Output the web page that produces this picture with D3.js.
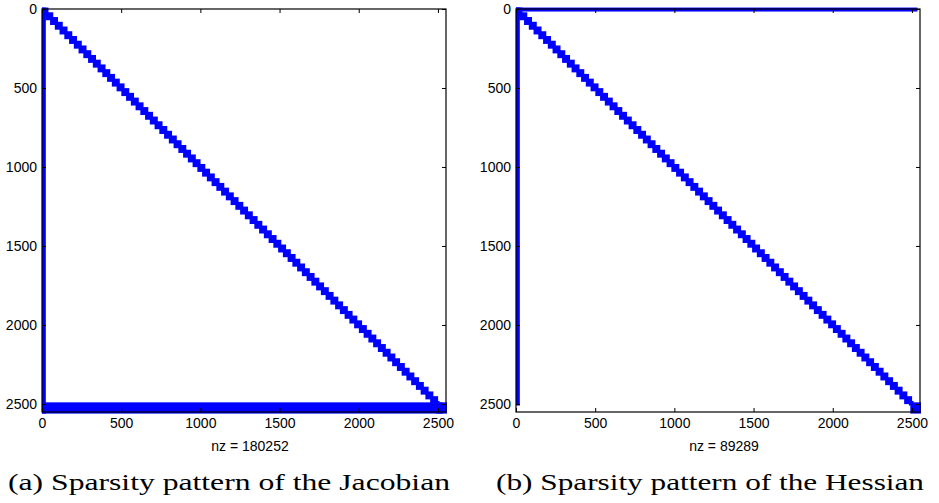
<!DOCTYPE html>
<html>
<head>
<meta charset="utf-8">
<script src="https://cdn.jsdelivr.net/npm/d3@7"></script>
<style>
  html, body { margin: 0; padding: 0; background: #fff; }
  svg { display: block; }
</style>
</head>
<body>
<svg id="chart" width="939" height="503"></svg>
<script>
// ---- data ----
const matrixSize = 2550;                 // n (axis runs 0..n+1)
const tickValues = [0, 500, 1000, 1500, 2000, 2500];
const tickLabels = ["0", "500", "1000", "1500", "2000", "2500"];
const diagBlockSize = 30;                // size of the diagonal blocks
const diagEnd = 2500;                    // diagonal blocks run up to this index
const nzLabels = ["nz = 180252", "nz = 89289"];
const captions = ["(a) Sparsity pattern of the Jacobian", "(b) Sparsity pattern of the Hessian"];
// extra dense regions [rowStart, rowEnd, colStart, colEnd]
const jacobianRegions = [
  [1, 2551, 1, 14],        // first column(s)
  [2500, 2551, 1, 2520],   // bottom dense rows
  [2500, 2551, 2500, 2551] // last block
];
const hessianRegions = [
  [1, 6, 1, 2525],         // first row
  [1, 2500, 1, 14],        // first column
  [2500, 2551, 2500, 2551] // last block
];

// ---- layout ----
const svg = d3.select("#chart");
const panels = [
  { x0: 42, x1: 446, y0: 9, y1: 412, regions: jacobianRegions, nz: nzLabels[0], caption: captions[0], capX0: 8, capX1: 450 },
  { x0: 516, x1: 920, y0: 9, y1: 412, regions: hessianRegions, nz: nzLabels[1], caption: captions[1], capX0: 496, capX1: 924 }
];
const markerHalf = 1.6;
const blue = "#0000ff";
const sansFont = "'Liberation Sans', Arial, Helvetica, sans-serif";

// diagonal blocks
const diagBlocks = [];
for (let s = 1; s < diagEnd; s += diagBlockSize) {
  const e = Math.min(s + diagBlockSize, diagEnd);
  diagBlocks.push([s, e, s, e]);
}

panels.forEach((p, i) => {
  const x = d3.scaleLinear().domain([0, matrixSize + 1]).range([p.x0, p.x1]);
  const y = d3.scaleLinear().domain([0, matrixSize + 1]).range([p.y0, p.y1]);
  const g = svg.append("g");

  const clipId = "clip" + i;
  svg.append("clipPath").attr("id", clipId)
    .append("rect").attr("x", p.x0).attr("y", p.y0 - 2)
    .attr("width", p.x1 - p.x0 + 1).attr("height", p.y1 - p.y0 + 4);

  const marks = g.append("g").attr("clip-path", `url(#${clipId})`);
  const all = diagBlocks.concat(p.regions);
  marks.selectAll("rect").data(all).join("rect")
    .attr("x", d => x(d[2]) - markerHalf)
    .attr("y", d => y(d[0]) - markerHalf)
    .attr("width", d => x(d[3]) - x(d[2]) + 2 * markerHalf)
    .attr("height", d => y(d[1]) - y(d[0]) + 2 * markerHalf)
    .attr("fill", blue);

  // axes
  const fmt = (d) => tickLabels[tickValues.indexOf(d)];
  const bottom = g.append("g").attr("transform", `translate(0,${p.y1})`)
    .call(d3.axisBottom(x).tickValues(tickValues).tickFormat(fmt).tickSizeInner(-4).tickSizeOuter(0).tickPadding(6));
  const left = g.append("g").attr("transform", `translate(${p.x0},0)`)
    .call(d3.axisLeft(y).tickValues(tickValues).tickFormat(fmt).tickSizeInner(-4).tickSizeOuter(0).tickPadding(5));
  const top = g.append("g").attr("transform", `translate(0,${p.y0})`)
    .call(d3.axisTop(x).tickValues(tickValues).tickFormat("").tickSizeInner(-4).tickSizeOuter(0));
  const right = g.append("g").attr("transform", `translate(${p.x1},0)`)
    .call(d3.axisRight(y).tickValues(tickValues).tickFormat("").tickSizeInner(-4).tickSizeOuter(0));
  [bottom, left, top, right].forEach(a => {
    a.select(".domain").remove();
    a.selectAll(".tick line").attr("stroke", "#000");
    a.selectAll("text").attr("font-family", sansFont).attr("font-size", 14).attr("fill", "#000");
  });

  // box
  g.append("rect").attr("x", p.x0).attr("y", p.y0)
    .attr("width", p.x1 - p.x0).attr("height", p.y1 - p.y0)
    .attr("fill", "none").attr("stroke", "#000").attr("stroke-width", 1.2);

  // nz label
  g.append("text").attr("x", (p.x0 + p.x1) / 2 + 6).attr("y", 451)
    .attr("text-anchor", "middle").attr("font-family", sansFont).attr("font-size", 14)
    .text(p.nz);

  // caption
  g.append("text").attr("x", p.capX0).attr("y", 490)
    .attr("font-family", "'Liberation Serif', 'Times New Roman', serif").attr("font-size", 24)
    .attr("textLength", p.capX1 - p.capX0).attr("lengthAdjust", "spacingAndGlyphs")
    .text(p.caption);
});
</script>
</body>
</html>
